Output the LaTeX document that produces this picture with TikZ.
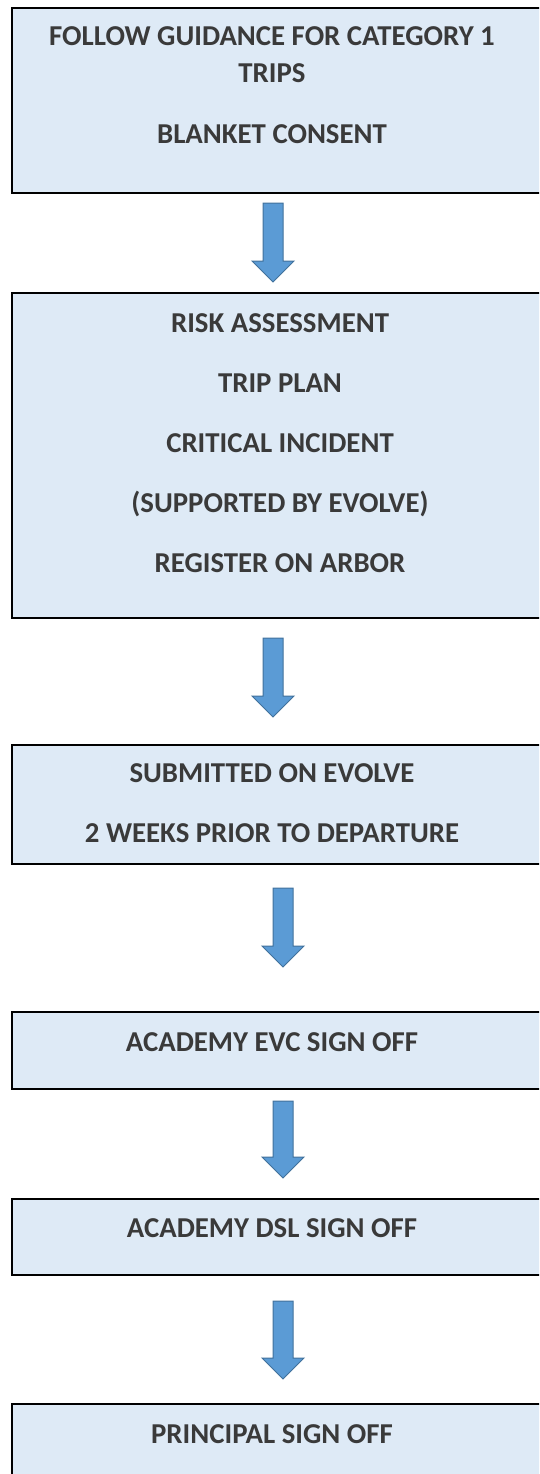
\documentclass[tikz,border=0pt]{standalone}
\usepackage{fontspec}
\setmainfont{Carlito}
\usetikzlibrary{calc}
\definecolor{boxfill}{HTML}{DEEAF6}
\definecolor{txtcol}{HTML}{3A3A3A}
\definecolor{arrfill}{HTML}{5B9BD5}
\definecolor{arrdraw}{HTML}{41719C}
\tikzset{
  flowbox/.style={draw=black, line width=2pt, fill=boxfill},
  flowtext/.style={anchor=base, inner sep=0pt, text=txtcol, font=\fontsize{28.8}{32}\selectfont\bfseries},
  blockarrow/.style={fill=arrfill, draw=arrdraw, line width=1pt, line join=miter}
}
\newcommand{\blockarr}[2]{%
  \path[blockarrow] ($(#1)+(-10,0)$) -- ($(#1)+(10,0)$) -- ($(#2)+(10,-21)$) -- ($(#2)+(21,-21)$)
    -- (#2) -- ($(#2)+(-21,-21)$) -- ($(#2)+(-10,-21)$) -- cycle;}
\begin{document}
\begin{tikzpicture}[x=1pt,y=-1pt]
\useasboundingbox (0,0) rectangle (539,1474);
\clip (0,0) rectangle (539,1474);
% boxes
\node[flowbox, inner sep=0pt, minimum width=560pt, minimum height=185pt, anchor=north west] (b1) at (11,7) {};
\node[flowbox, inner sep=0pt, minimum width=560pt, minimum height=325pt, anchor=north west] (b2) at (11,292) {};
\node[flowbox, inner sep=0pt, minimum width=560pt, minimum height=119pt, anchor=north west] (b3) at (11,744) {};
\node[flowbox, inner sep=0pt, minimum width=560pt, minimum height=77pt, anchor=north west] (b4) at (11,1011) {};
\node[flowbox, inner sep=0pt, minimum width=560pt, minimum height=76pt, anchor=north west] (b5) at (11,1198) {};
\node[flowbox, inner sep=0pt, minimum width=560pt, minimum height=100pt, anchor=north west] (b6) at (11,1403) {};
% texts
\node[flowtext] (t11) at (272,46) {FOLLOW GUIDANCE FOR CATEGORY 1};
\node[flowtext] (t12) at (272,83) {TRIPS};
\node[flowtext] (t13) at (272,144) {BLANKET CONSENT};
\node[flowtext] (t21) at (280,332) {RISK ASSESSMENT};
\node[flowtext] (t22) at (280,392) {TRIP PLAN};
\node[flowtext] (t23) at (280,452) {CRITICAL INCIDENT};
\node[flowtext] (t24) at (280,512) {(SUPPORTED BY EVOLVE)};
\node[flowtext] (t25) at (280,572) {REGISTER ON ARBOR};
\node[flowtext] (t31) at (272,782) {SUBMITTED ON EVOLVE};
\node[flowtext] (t32) at (272,842) {2 WEEKS PRIOR TO DEPARTURE};
\node[flowtext] (t41) at (272,1051) {ACADEMY EVC SIGN OFF};
\node[flowtext] (t51) at (272,1237) {ACADEMY DSL SIGN OFF};
\node[flowtext] (t61) at (272,1443) {PRINCIPAL SIGN OFF};
% arrows
\coordinate (a1s) at (273,203); \coordinate (a1e) at (273,282);
\coordinate (a2s) at (273,638); \coordinate (a2e) at (273,717);
\coordinate (a3s) at (283,888); \coordinate (a3e) at (283,967);
\coordinate (a4s) at (283,1101); \coordinate (a4e) at (283,1178);
\coordinate (a5s) at (283,1301); \coordinate (a5e) at (283,1379);
\blockarr{a1s}{a1e}
\blockarr{a2s}{a2e}
\blockarr{a3s}{a3e}
\blockarr{a4s}{a4e}
\blockarr{a5s}{a5e}
\end{tikzpicture}
\end{document}
